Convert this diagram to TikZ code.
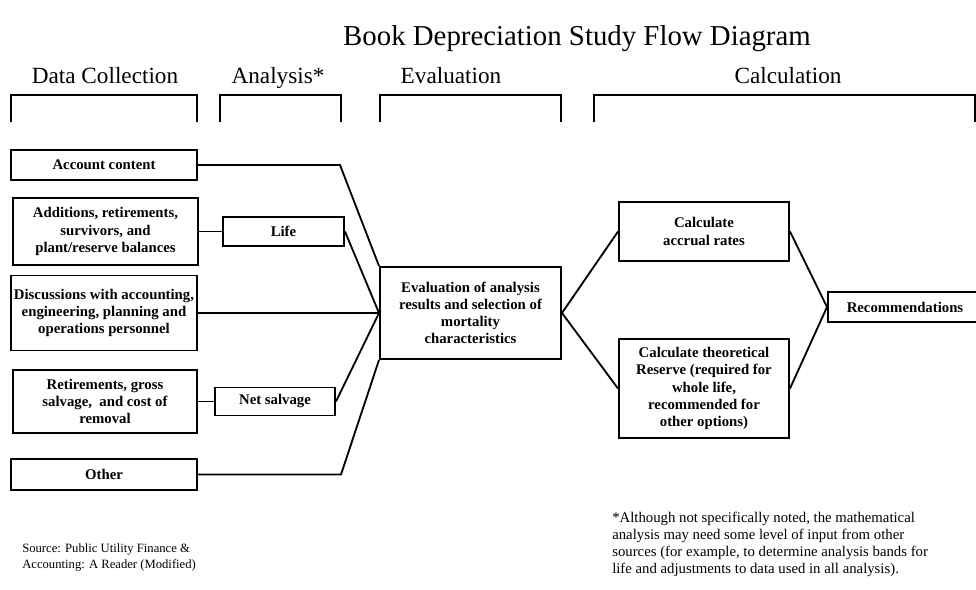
\documentclass[tikz,border=0pt]{standalone}
\usepackage{fontspec}
\setmainfont{Liberation Serif}
\usetikzlibrary{positioning, calc}

% one pixel of the layout grid
\newcommand{\pxu}{0.025cm}

\tikzset{
  box/.style={draw, line width=1.4pt, align=center, inner sep=1pt, font=\fontsize{10.5}{12.2}\selectfont\bfseries},
  hdr/.style={anchor=base, font=\fontsize{16.5}{18}\selectfont},
  link/.style={line width=1.3pt},
  brace/.style={line width=1.4pt},
  note/.style={align=left, anchor=west, inner sep=0pt}
}

\begin{document}
\begin{tikzpicture}[x=\pxu, y=-\pxu]
\useasboundingbox (0,0) rectangle (976,590);

% Title and stage headers
\node[anchor=base, font=\fontsize{20.5}{24}\selectfont] (title) at (577,46) {Book Depreciation Study Flow Diagram};
\node[hdr] (hdata) at (105,84) {Data Collection};
\node[hdr] (hanal) at (278,84) {Analysis*};
\node[hdr] (heval) at (451,84) {Evaluation};
\node[hdr] (hcalc) at (788,84) {Calculation};

% Brackets
\draw[brace] (11,122) |- (197,95) -- (197,122);
\draw[brace] (220,122) |- (341,95) -- (341,122);
\draw[brace] (380,122) |- (561,95) -- (561,122);
\draw[brace] (594,122) |- (975,95) -- (975,122);

% Left: data collection
\node[box, minimum width=186*\pxu, minimum height=30*\pxu] (acc) at (104,165) {Account content};
\node[box, minimum width=185*\pxu, minimum height=67*\pxu] (add) at (105.5,231.5) {Additions, retirements,\\ survivors, and\\ plant/reserve balances};
\node[box, minimum width=186*\pxu, minimum height=75*\pxu] (disc) at (104,313) {Discussions with accounting,\\ engineering, planning and\\ operations personnel};
\node[box, minimum width=184*\pxu, minimum height=63*\pxu] (ret) at (105,401.5) {Retirements, gross\\ salvage,\ \ and cost of\\ removal};
\node[box, minimum width=186*\pxu, minimum height=31*\pxu] (oth) at (104,474.5) {Other};

% Analysis
\node[box, minimum width=121*\pxu, minimum height=29*\pxu] (life) at (283.5,231.5) {Life};
\node[box, minimum width=120*\pxu, minimum height=28*\pxu] (net) at (275,401.5) {Net salvage};

% Evaluation
\node[box, minimum width=181*\pxu, minimum height=92*\pxu] (eval) at (470.5,313) {Evaluation of analysis\\ results and selection of\\ mortality\\ characteristics};

% Calculation
\node[box, minimum width=170*\pxu, minimum height=59*\pxu] (accr) at (704,231.5) {Calculate\\ accrual rates};
\node[box, minimum width=170*\pxu, minimum height=99*\pxu] (theo) at (704,388.5) {Calculate theoretical\\ Reserve (required for\\ whole life,\\ recommended for\\ other options)};
\node[box, minimum width=154*\pxu, minimum height=30*\pxu] (rec) at (905,307) {Recommendations};

% Connectors
\coordinate (accb) at (340,165);
\coordinate (othb) at (341,474.5);
\draw[link] (acc) -- (accb) -- (eval.north west);
\draw[link] (add) -- (life);
\draw[link] (life.east) -- (eval.west);
\draw[link] (disc) -- (eval.west);
\draw[link] (ret) -- (net);
\draw[link] (net.east) -- (eval.west);
\draw[link] (oth) -- (othb) -- (eval.south west);
\draw[link] (eval.east) -- (accr.west);
\draw[link] (eval.east) -- (theo.west);
\draw[link] (accr.east) -- (rec.west);
\draw[link] (theo.east) -- (rec.west);

% Notes
\node[note, font=\fontsize{9}{12}\selectfont] (src) at (22,557.5) {Source: Public Utility Finance \&\\ Accounting: A Reader (Modified)};
\node[note, font=\fontsize{10.5}{12.1}\selectfont] (foot) at (612,544.5) {*Although not specifically noted, the mathematical\\ analysis may need some level of input from other\\ sources (for example, to determine analysis bands for\\ life and adjustments to data used in all analysis).};
\end{tikzpicture}
\end{document}
